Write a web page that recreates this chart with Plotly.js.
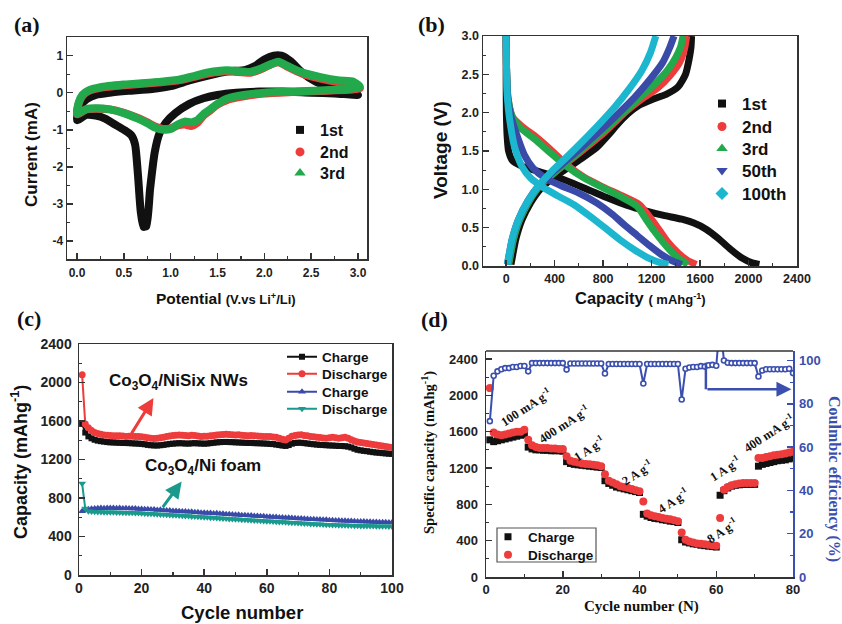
<!DOCTYPE html>
<html><head><meta charset="utf-8">
<script src="https://cdn.plot.ly/plotly-3.0.1.min.js"></script>
<style>html,body{margin:0;padding:0;background:#fff}#chart{width:842px;height:624px}</style>
</head><body><div id="chart"></div>
<script>
// ---------------- DATA ----------------
// (a) cyclic voltammetry: potential (V) and current (mA)
const cv1V = [3.0,2.75,2.5,2.2,1.95,1.7,1.5,1.35,1.2,1.05,0.95,0.88,0.83,0.78,0.74,0.71,0.68,0.65,0.62,0.58,0.5,0.4,0.3,0.2,0.1,0.0,0.03,0.1,0.2,0.35,0.55,0.8,1.0,1.2,1.4,1.6,1.8,1.9,2.0,2.1,2.18,2.28,2.4,2.55,2.7,2.85,3.0];
const cv1I = [-0.06,-0.02,0.0,0.03,0.03,0.0,-0.06,-0.15,-0.3,-0.55,-0.8,-1.1,-1.6,-2.6,-3.6,-3.62,-3.2,-2.2,-1.4,-1.15,-1.0,-0.85,-0.7,-0.62,-0.6,-0.74,-0.38,-0.18,-0.06,0.0,0.05,0.1,0.18,0.33,0.46,0.57,0.62,0.72,0.9,1.0,1.0,0.85,0.55,0.3,0.15,0.03,-0.06];
const cv2V = [3.02,2.9,2.6,2.3,2.0,1.78,1.6,1.5,1.42,1.35,1.28,1.22,1.15,1.08,1.0,0.92,0.84,0.75,0.65,0.5,0.35,0.2,0.1,0.0,0.02,0.06,0.12,0.25,0.5,0.9,1.1,1.25,1.4,1.6,1.85,1.95,2.05,2.15,2.25,2.4,2.6,2.8,2.95,3.02];
const cv2I = [0.12,0.08,0.05,0.02,-0.02,-0.1,-0.2,-0.32,-0.48,-0.62,-0.82,-0.9,-0.86,-0.88,-0.96,-0.98,-0.92,-0.8,-0.68,-0.54,-0.45,-0.43,-0.45,-0.58,-0.28,-0.08,0.04,0.13,0.2,0.28,0.34,0.43,0.52,0.58,0.54,0.62,0.74,0.82,0.7,0.52,0.38,0.28,0.24,0.12];
const cv3V = [3.02,2.9,2.6,2.3,2.0,1.78,1.6,1.5,1.42,1.35,1.28,1.22,1.15,1.08,1.0,0.92,0.84,0.75,0.65,0.5,0.35,0.2,0.1,0.0,0.02,0.06,0.12,0.25,0.5,0.9,1.1,1.25,1.4,1.6,1.85,1.95,2.05,2.15,2.25,2.4,2.6,2.8,2.95,3.02];
const cv3I = [0.16,0.1,0.06,0.03,0.0,-0.06,-0.16,-0.3,-0.45,-0.58,-0.75,-0.8,-0.78,-0.85,-0.98,-1.0,-0.95,-0.82,-0.7,-0.55,-0.45,-0.42,-0.44,-0.56,-0.25,-0.05,0.06,0.15,0.22,0.3,0.36,0.45,0.55,0.61,0.56,0.64,0.75,0.84,0.72,0.55,0.42,0.33,0.3,0.16];
const cvNames = ['1st','2nd','3rd'];

// (b) charge/discharge profiles: capacity (mAh/g) and voltage (V)
const d1Cap = [0,0,2,8,20,50,120,250,400,550,700,850,1000,1150,1300,1450,1550,1650,1750,1850,1950,2030,2090];
const d1V   = [3.0,2.5,2.0,1.7,1.5,1.38,1.31,1.24,1.17,1.08,0.98,0.88,0.79,0.72,0.66,0.61,0.56,0.48,0.36,0.22,0.1,0.04,0.02];
const c1Cap = [40,55,80,130,200,280,380,500,620,750,850,920,1000,1100,1200,1320,1420,1480,1510,1525,1530];
const c1V   = [0.02,0.15,0.35,0.6,0.82,1.0,1.14,1.27,1.4,1.55,1.72,1.85,1.98,2.1,2.17,2.24,2.34,2.5,2.7,2.85,3.0];
const d2Cap = [0,3,15,50,130,250,380,500,650,800,950,1100,1180,1250,1330,1420,1500,1570];
const d2V   = [3.0,2.6,2.2,1.95,1.82,1.68,1.5,1.32,1.15,1.03,0.92,0.8,0.65,0.5,0.32,0.17,0.07,0.02];
const c2Cap = [20,35,60,110,190,280,400,520,640,780,900,1000,1120,1250,1350,1430,1470,1490];
const c2V   = [0.02,0.15,0.35,0.6,0.85,1.05,1.22,1.37,1.52,1.7,1.88,2.03,2.18,2.32,2.48,2.65,2.82,3.0];
const d3Cap = [0,3,15,50,120,240,370,500,650,800,950,1080,1150,1220,1300,1380,1450,1500];
const d3V   = [3.0,2.6,2.2,1.95,1.8,1.65,1.47,1.3,1.14,1.02,0.9,0.78,0.62,0.46,0.3,0.16,0.07,0.02];
const c3Cap = [20,35,60,110,190,280,400,520,640,780,900,1000,1120,1230,1330,1400,1440,1460];
const c3V   = [0.02,0.15,0.35,0.6,0.85,1.05,1.22,1.38,1.54,1.73,1.9,2.05,2.22,2.38,2.55,2.72,2.86,3.0];
const d50Cap = [0,3,12,40,90,150,220,320,450,600,750,880,980,1080,1180,1280,1380,1450];
const d50V   = [3.0,2.6,2.2,1.95,1.7,1.45,1.28,1.15,1.05,0.95,0.82,0.67,0.53,0.4,0.27,0.15,0.06,0.02];
const c50Cap = [10,25,50,100,180,270,380,500,640,780,920,1060,1180,1290,1350,1385];
const c50V   = [0.02,0.15,0.35,0.6,0.85,1.05,1.22,1.38,1.57,1.77,1.98,2.2,2.42,2.65,2.85,3.0];
const d100Cap = [0,3,10,30,70,130,200,300,420,560,700,830,950,1070,1180,1280,1340];
const d100V   = [3.0,2.6,2.2,1.9,1.55,1.3,1.15,1.03,0.92,0.8,0.64,0.48,0.33,0.2,0.1,0.04,0.02];
const c100Cap = [10,25,50,100,180,270,380,500,640,780,900,1020,1120,1190,1235];
const c100V   = [0.02,0.15,0.35,0.6,0.85,1.05,1.24,1.42,1.64,1.87,2.08,2.32,2.55,2.78,3.0];
const gcdNames = ['1st','2nd','3rd','50th','100th'];

// (c) cycling, capacity (mAh/g) per cycle 1..100
const nisixCharge = [1570,1480,1440,1420,1405,1396,1390,1386,1381,1378,1377,1375,1374,1372,1371,1370,1368,1366,1365,1362,1358,1352,1348,1346,1345,1348,1352,1357,1362,1365,1367,1370,1368,1366,1365,1368,1370,1367,1366,1364,1366,1370,1374,1378,1380,1382,1383,1381,1380,1378,1377,1375,1374,1372,1373,1370,1369,1368,1366,1365,1362,1360,1355,1350,1345,1341,1350,1364,1372,1375,1374,1370,1366,1362,1358,1355,1352,1350,1348,1346,1345,1343,1341,1340,1338,1334,1325,1312,1301,1295,1290,1286,1281,1276,1272,1270,1266,1263,1260,1258];
const nisixDischarge = [2080,1570,1530,1500,1480,1470,1462,1455,1452,1450,1448,1446,1447,1443,1440,1442,1441,1438,1440,1436,1430,1426,1420,1418,1421,1425,1431,1440,1444,1450,1451,1455,1452,1449,1447,1452,1450,1444,1440,1442,1441,1446,1450,1455,1458,1461,1462,1460,1457,1455,1456,1452,1450,1447,1450,1446,1445,1441,1440,1439,1438,1434,1430,1421,1410,1402,1420,1441,1450,1455,1456,1450,1446,1440,1436,1431,1428,1424,1420,1426,1431,1425,1421,1427,1432,1420,1405,1391,1381,1376,1371,1366,1360,1356,1350,1346,1341,1335,1330,1324];
const foamCharge = [662,672,683,688,691,693,696,694,697,695,696,693,695,692,694,691,690,690,687,687,684,684,680,681,676,677,672,671,670,666,666,663,661,660,656,656,652,652,648,648,645,644,640,641,636,636,632,631,629,626,626,622,622,618,618,614,614,610,610,606,606,602,602,598,598,594,594,591,590,587,587,584,583,580,580,577,576,573,573,570,569,567,566,564,563,561,560,558,557,556,555,553,553,551,550,549,549,547,546,545];
const foamDischarge = [950,690,662,659,656,655,655,653,653,652,652,650,650,648,648,646,646,644,643,641,640,637,636,633,632,629,628,625,624,621,620,617,616,613,612,609,607,605,603,600,599,596,595,591,590,587,586,583,582,579,578,575,574,571,570,567,566,563,562,559,558,555,554,551,550,547,546,543,542,539,538,535,534,531,530,528,527,524,523,521,520,519,518,516,516,514,514,512,512,510,510,509,509,508,507,507,506,506,505,505];
const cycNames = ['Charge','Discharge','Charge','Discharge'];
const cycLabels = ['Co<sub>3</sub>O<sub>4</sub>/NiSix NWs','Co<sub>3</sub>O<sub>4</sub>/Ni foam'];

// (d) rate capability, cycles 1..80
const rateCharge = [1510,1490,1500,1510,1520,1530,1540,1550,1560,1570,
 1430,1410,1400,1400,1395,1395,1390,1390,1390,1385,
 1270,1250,1240,1235,1230,1225,1220,1215,1210,1205,
 1060,1030,1010,990,980,970,960,950,940,930,
 690,670,655,645,640,630,625,615,610,600,
 410,385,375,365,360,350,345,340,335,330,
 900,950,980,1000,1010,1015,1020,1020,1020,1020,
 1220,1240,1250,1260,1270,1280,1285,1290,1300,1310];
const rateDischarge = [2080,1590,1570,1560,1570,1580,1590,1600,1600,1620,
 1510,1450,1430,1420,1420,1420,1415,1415,1410,1410,
 1330,1280,1270,1260,1250,1245,1240,1235,1230,1220,
 1130,1060,1040,1020,1000,990,980,970,955,945,
 830,700,680,670,660,650,640,635,625,615,
 490,410,390,380,370,365,360,355,350,345,
 650,960,990,1010,1020,1030,1035,1035,1035,1035,
 1310,1310,1320,1330,1340,1345,1350,1360,1370,1380];
const rateCE = [72,93,95,96,96.5,96.5,97,97,97.5,97.5,
 95,98.8,98.8,98.8,98.8,98.8,98.8,98.8,98.8,98.8,
 95.8,98.6,98.6,98.6,98.6,98.6,98.6,98.6,98.6,98.6,
 94,98.4,98.4,98.4,98.4,98.4,98.4,98.4,98.4,98.4,
 89.4,98.4,98.4,98.4,98.4,98.4,98.4,98.4,98.4,98.4,
 82,96.2,96.8,97,97,97.4,97.2,97.8,98,97.6,
 118,100,99,98.8,98.8,98.8,98.8,98.8,98.8,98.8,
 92.6,95.4,96,96,96,96,96,96,96.2,94.2];
const rateLabels = ['100 mA g<sup>-1</sup>','400 mA g<sup>-1</sup>','1 A g<sup>-1</sup>','2 A g<sup>-1</sup>','4 A g<sup>-1</sup>','8 A g<sup>-1</sup>','1 A g<sup>-1</sup>','400 mA g<sup>-1</sup>'];
const rateNames = ['Charge','Discharge'];

// tick labels
const aXVals = [0,0.5,1,1.5,2,2.5,3], aXText = ['0.0','0.5','1.0','1.5','2.0','2.5','3.0'];
const aYVals = [-4,-3,-2,-1,0,1], aYText = ['-4','-3','-2','-1','0','1'];
const bXVals = [0,400,800,1200,1600,2000,2400], bXText = ['0','400','800','1200','1600','2000','2400'];
const bYVals = [0,0.5,1,1.5,2,2.5,3], bYText = ['0.0','0.5','1.0','1.5','2.0','2.5','3.0'];
const cXVals = [0,20,40,60,80,100], cXText = ['0','20','40','60','80','100'];
const cYVals = [0,400,800,1200,1600,2000,2400], cYText = ['0','400','800','1200','1600','2000','2400'];
const dXVals = [0,20,40,60,80], dXText = ['0','20','40','60','80'];
const dYVals = [0,400,800,1200,1600,2000,2400], dYText = ['0','400','800','1200','1600','2000','2400'];
const dY2Vals = [0,20,40,60,80,100], dY2Text = ['0','20','40','60','80','100'];

// ---------------- STYLE / LAYOUT ----------------
const W = 842, H = 624;
const fx = p => p / W, fy = p => 1 - p / H;
const SANS = 'Liberation Sans, Arial, sans-serif';
const SERIF = 'Liberation Serif, Times New Roman, serif';
const BLK = '#111111', RED = '#ee3b3b', GRN = '#22a94b', BLU = '#3a4aa8', CYN = '#1cb6cf', TEAL = '#1a9a8c', CEB = '#3b4fae';

const cycles100 = nisixCharge.map((_, i) => i + 1);
const cycles80 = rateCharge.map((_, i) => i + 1);
const joinXY = (a, b) => a.concat([null], b);

const traces = [];
// (a)
[[cv1V, cv1I, BLK, 8], [cv2V, cv2I, RED, 8], [cv3V, cv3I, GRN, 8]].forEach(([x, y, c, w]) => {
  traces.push({x, y, xaxis: 'x', yaxis: 'y', mode: 'lines', line: {color: c, width: w, shape: 'spline', smoothing: 0.6}, showlegend: false, hoverinfo: 'skip'});
});
// (b)
[[d1Cap, c1Cap, d1V, c1V, BLK], [d2Cap, c2Cap, d2V, c2V, RED], [d3Cap, c3Cap, d3V, c3V, GRN], [d50Cap, c50Cap, d50V, c50V, BLU], [d100Cap, c100Cap, d100V, c100V, CYN]].forEach(([dx, cx, dy, cy, c]) => {
  traces.push({x: joinXY(dx, cx), y: joinXY(dy, cy), xaxis: 'x2', yaxis: 'y2', mode: 'lines', line: {color: c, width: 7, shape: 'spline', smoothing: 0.6}, showlegend: false, hoverinfo: 'skip'});
});
// (c)
const cycSeries = [[nisixCharge, BLK, 'square', 6], [nisixDischarge, RED, 'circle', 7], [foamCharge, BLU, 'triangle-up', 7], [foamDischarge, TEAL, 'triangle-down', 7]];
cycSeries.forEach(([y, c, s, sz], i) => {
  traces.push({x: cycles100, y, xaxis: 'x3', yaxis: 'y3', mode: 'lines+markers', name: cycNames[i], legend: 'legend' + (9 + i),
    line: {color: c, width: 2}, marker: {color: c, symbol: s, size: sz}, hoverinfo: 'skip'});
});
// (d)
traces.push({x: cycles80, y: rateCE, xaxis: 'x4', yaxis: 'y5', mode: 'lines+markers', line: {color: CEB, width: 2}, marker: {symbol: 'circle', size: 5, color: '#ffffff', line: {color: CEB, width: 1.6}}, showlegend: false, hoverinfo: 'skip', cliponaxis: true});
traces.push({x: cycles80, y: rateCharge, xaxis: 'x4', yaxis: 'y4', mode: 'markers', name: rateNames[0], legend: 'legend13', marker: {symbol: 'square', size: 7, color: BLK}, hoverinfo: 'skip'});
traces.push({x: cycles80, y: rateDischarge, xaxis: 'x4', yaxis: 'y4', mode: 'markers', name: rateNames[1], legend: 'legend14', marker: {symbol: 'circle', size: 8, color: RED}, hoverinfo: 'skip'});

// legend-only marker traces for (a) and (b)
const aSym = [['square', BLK, 8], ['circle', RED, 9], ['triangle-up', GRN, 10]];
aSym.forEach(([s, c, sz], i) => traces.push({x: [null], y: [null], xaxis: 'x', yaxis: 'y', mode: 'markers', name: cvNames[i], legend: i === 0 ? 'legend' : 'legend' + (i + 1), marker: {symbol: s, color: c, size: sz}, hoverinfo: 'skip'}));
const bSym = [['square', BLK, 8], ['circle', RED, 9], ['triangle-up', GRN, 10], ['triangle-down', BLU, 10], ['diamond', CYN, 10]];
bSym.forEach(([s, c, sz], i) => traces.push({x: [null], y: [null], xaxis: 'x2', yaxis: 'y2', mode: 'markers', name: gcdNames[i], legend: 'legend' + (4 + i), marker: {symbol: s, color: c, size: sz}, hoverinfo: 'skip'}));

function axis(o) {
  return Object.assign({showline: true, linecolor: '#333', linewidth: 1.5, mirror: true, ticks: 'inside', ticklen: 6, tickwidth: 1.5, tickcolor: '#333',
    showgrid: false, zeroline: false, tickmode: 'array', fixedrange: true,
    tickfont: {family: SANS, size: 12, weight: 'bold', color: '#222'}}, o);
}
function minor(d) { return {tickmode: 'linear', tick0: 0, dtick: d, ticks: 'inside', ticklen: 3, tickwidth: 1.2, tickcolor: '#333', showgrid: false}; }

const layout = {
  width: W, height: H, margin: {l: 0, r: 0, t: 0, b: 0}, paper_bgcolor: '#fff', plot_bgcolor: '#fff', showlegend: true,
  xaxis: axis({domain: [fx(67), fx(367)], anchor: 'y', range: [-0.107, 3.096], tickvals: aXVals, ticktext: aXText, minor: minor(0.25), ticklabelstandoff: 2}),
  yaxis: axis({domain: [fy(259), fy(37)], anchor: 'x', range: [-4.49, 1.505], tickvals: aYVals, ticktext: aYText, minor: minor(0.5)}),
  xaxis2: axis({domain: [fx(483), fx(797)], anchor: 'y2', range: [-191, 2400], tickvals: bXVals, ticktext: bXText, minor: minor(200), tickfont: {family: SANS, size: 12.5, weight: 'bold', color: '#222'}}),
  yaxis2: axis({domain: [fy(266), fy(36)], anchor: 'x2', range: [0, 3], tickvals: bYVals, ticktext: bYText, minor: minor(0.25), tickfont: {family: SANS, size: 12.5, weight: 'bold', color: '#222'}}),
  xaxis3: axis({domain: [fx(79), fx(392)], anchor: 'y3', range: [0, 100], tickvals: cXVals, ticktext: cXText, minor: minor(10), tickfont: {family: SANS, size: 14, weight: 'bold', color: '#222'}}),
  yaxis3: axis({domain: [fy(575), fy(344)], anchor: 'x3', range: [0, 2400], tickvals: cYVals, ticktext: cYText, minor: minor(200), ticklabelstandoff: 3, tickfont: {family: SANS, size: 14, weight: 'bold', color: '#222'}}),
  xaxis4: axis({domain: [fx(486), fx(793)], anchor: 'y4', range: [0, 80], tickvals: dXVals, ticktext: dXText, minor: minor(10), mirror: false, tickfont: {family: SANS, size: 13, weight: 'bold', color: '#222'}}),
  yaxis4: axis({domain: [fy(577), fy(351)], anchor: 'x4', range: [0, 2488], tickvals: dYVals, ticktext: dYText, minor: minor(200), mirror: false, ticklabelstandoff: 4, tickfont: {family: SANS, size: 13, weight: 'bold', color: '#222'}}),
  yaxis5: axis({overlaying: 'y4', anchor: 'x4', side: 'right', range: [0, 104.4], tickvals: dY2Vals, ticktext: dY2Text, minor: Object.assign(minor(10), {tickcolor: CEB}), mirror: false, linecolor: CEB, tickcolor: CEB, ticklabelstandoff: 2, tickfont: {family: SANS, size: 13, weight: 'bold', color: CEB}}),
  shapes: [
    // top frame line for (d)
    {type: 'line', xref: 'paper', yref: 'paper', x0: fx(486), x1: fx(793), y0: fy(351), y1: fy(351), line: {color: '#333', width: 1.5}},
    // legend box (d)
    {type: 'rect', xref: 'paper', yref: 'paper', x0: fx(497), x1: fx(596), y0: fy(562), y1: fy(528), line: {color: '#555', width: 1.2}},
    // vertical part of arrow (d)
    {type: 'line', xref: 'x4', yref: 'y5', x0: 57.3, x1: 57.3, y0: 99, y1: 86.7, line: {color: CEB, width: 2.5}}
  ],
  annotations: []
};

// legends, one per entry, positioned by symbol center (px)
function legendAt(id, symX, symY, size) {
  layout[id] = {x: fx(symX - 20), y: fy(symY), xanchor: 'left', yanchor: 'middle', bgcolor: 'rgba(0,0,0,0)', borderwidth: 0, itemwidth: 30,
    itemclick: false, itemdoubleclick: false, font: {family: SANS, size: size, weight: 'bold', color: '#111'}};
}
legendAt('legend', 300, 130, 16); legendAt('legend2', 300, 152, 16); legendAt('legend3', 300, 173, 16);
[104, 127, 149, 171, 194].forEach((y, i) => legendAt('legend' + (4 + i), 722, y, 17));
[357, 374, 392, 409].forEach((y, i) => legendAt('legend' + (9 + i), 302, y, 13.5));
legendAt('legend13', 508, 537, 13.5); legendAt('legend14', 508, 555, 13.5);

const A = layout.annotations;
function txt(text, x, y, size, family, opts) {
  A.push(Object.assign({xref: 'paper', yref: 'paper', x: fx(x), y: fy(y), text, showarrow: false, xanchor: 'center', yanchor: 'middle',
    font: {family, size, weight: 'bold', color: '#111'}}, opts || {}));
}
// panel labels
txt('(a)', 27, 25, 22, SERIF); txt('(b)', 431, 25, 22, SERIF); txt('(c)', 29, 318, 22, SERIF); txt('(d)', 434, 319, 22, SERIF);
// axis titles
txt('Current (mA)', 31, 154, 17, SANS, {textangle: -90});
txt("Potential <span style='font-size:13px'>(V.vs Li<sup>+</sup>/Li)</span>", 226, 298, 15.5, SANS);
txt('Voltage (V)', 440, 150, 19, SANS, {textangle: -90});
txt("Capacity <span style='font-size:13px'>( mAhg<sup>-1</sup>)</span>", 640, 298, 16.5, SANS);
txt('Capacity (mAhg<sup>-1</sup>)', 19, 462, 18, SANS, {textangle: -90});
txt('Cycle number', 242, 612, 18.5, SANS);
txt('Specific capacity (mAhg<sup>-1</sup>)', 428, 453, 14.5, SERIF, {textangle: -90});
txt('Coulmbic efficiency (%)', 834, 479, 16, SERIF, {textangle: 90, font: {family: SERIF, size: 16, weight: 'bold', color: CEB}});
txt('Cycle number (N)', 641, 606, 15, SERIF);
// (c) sample labels and arrows
txt(cycLabels[0], 178, 382, 17, SANS);
txt(cycLabels[1], 203, 467, 17, SANS);
A.push({xref: 'x3', yref: 'y3', x: 23.8, y: 1838, ax: -23, ay: 37, text: '', showarrow: true, arrowhead: 2, arrowsize: 1.1, arrowwidth: 3, arrowcolor: RED});
A.push({xref: 'x3', yref: 'y3', x: 32.8, y: 971, ax: -20, ay: 27, text: '', showarrow: true, arrowhead: 2, arrowsize: 1.1, arrowwidth: 3, arrowcolor: TEAL});
// (d) rate labels
const ratePos = [[525, 407], [563, 424], [589, 448], [637, 472], [673, 500], [722, 530], [725, 468], [768, 433]];
ratePos.forEach(([x, y], i) => txt(rateLabels[i], x, y, 12.5, SERIF, {textangle: -33}));
// (d) arrow to right axis
A.push({xref: 'x4', yref: 'y5', x: 79.6, y: 86.7, axref: 'x4', ayref: 'y5', ax: 57.3, ay: 86.7, text: '', showarrow: true, arrowhead: 2, arrowsize: 1.2, arrowwidth: 2.5, arrowcolor: CEB, standoff: 0});

Plotly.newPlot('chart', traces, layout, {staticPlot: true, displayModeBar: false});
</script></body></html>
